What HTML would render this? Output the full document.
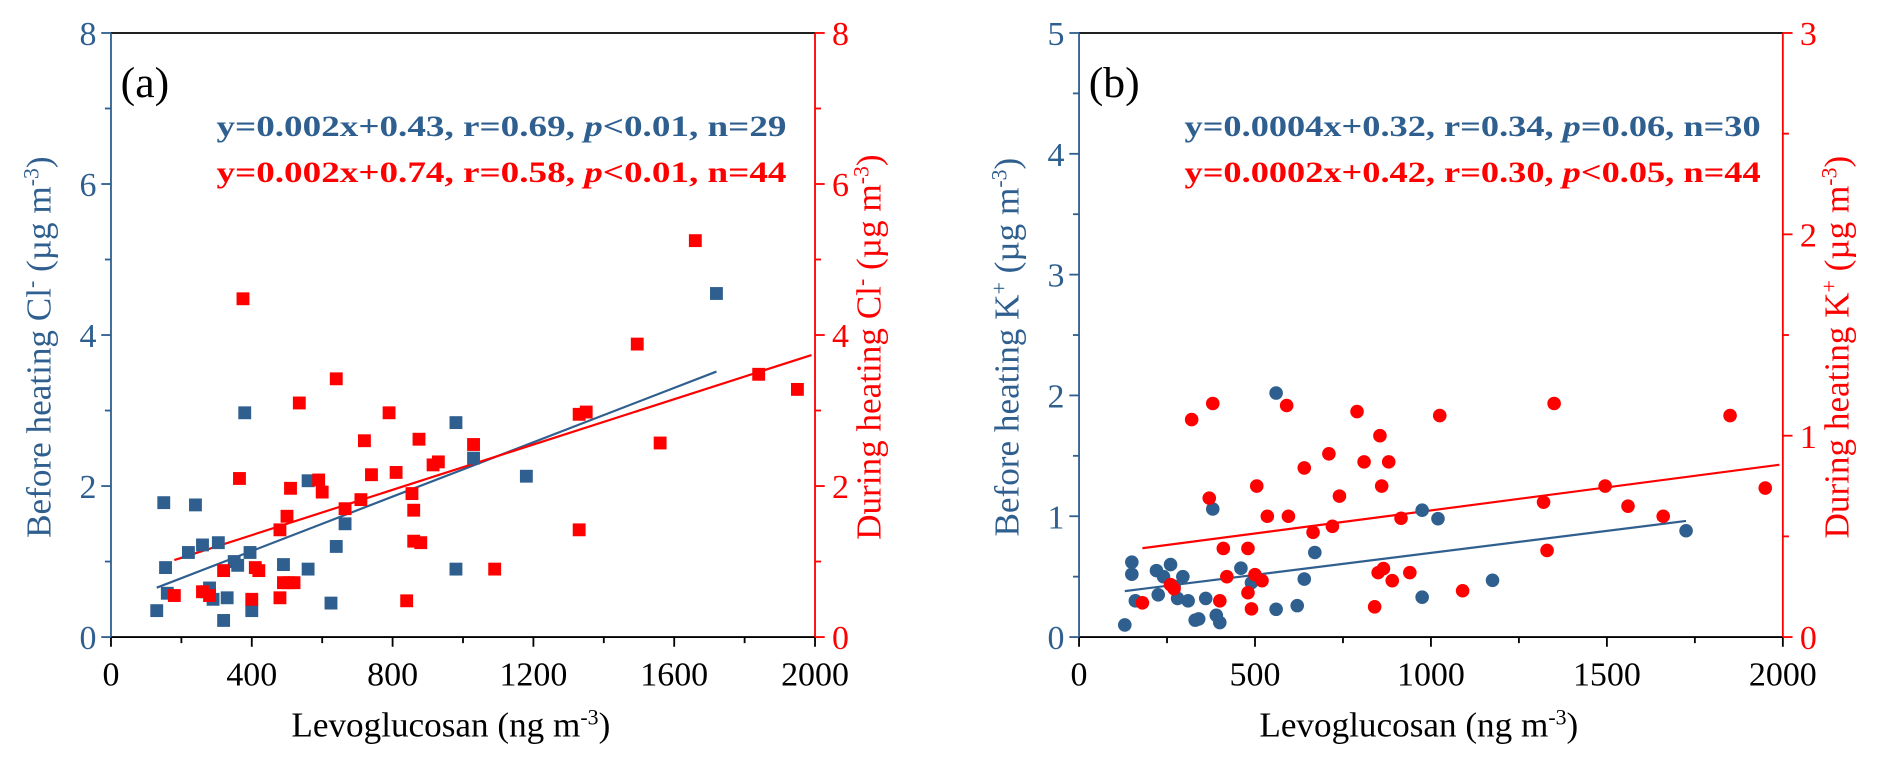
<!DOCTYPE html>
<html><head><meta charset="utf-8"><style>
html,body{margin:0;padding:0;background:#fff;}
svg{display:block;}
svg text{font-family:"Liberation Serif","Times New Roman",serif;}
</style></head><body>
<svg id="chart" width="1892" height="761" viewBox="0 0 1560 627.5" preserveAspectRatio="none" font-family="Liberation Serif, serif" xmlns="http://www.w3.org/2000/svg"></svg>
<script>
// Panel (a) data: Levoglucosan (ng m-3) vs Cl- (ug m-3)
const aBeforeX=[130,150,155,160,220,240,260,270,280,290,305,320,330,350,360,380,395,400,490,560,560,625,640,665,980,980,1030,1180,1720];
const aBeforeY=[0.35,1.78,0.92,0.58,1.12,1.75,1.22,0.6,0.65,0.5,1.25,0.22,0.52,1.0,0.95,2.97,1.12,0.35,0.96,2.07,0.9,0.45,1.2,1.5,2.84,0.9,2.37,2.13,4.55];
const aDuringX=[180,260,280,320,365,375,410,400,420,480,480,490,500,505,510,520,535,590,600,640,665,710,720,740,790,810,840,855,860,860,875,880,915,930,1030,1090,1330,1330,1350,1495,1560,1660,1840,1950];
const aDuringY=[0.55,0.6,0.55,0.88,2.1,4.48,0.92,0.5,0.88,1.42,0.52,0.72,1.6,0.72,1.97,0.72,3.1,2.08,1.92,3.42,1.7,1.82,2.6,2.15,2.97,2.18,0.48,1.9,1.68,1.27,2.62,1.25,2.28,2.32,2.55,0.9,2.95,1.42,2.98,3.88,2.57,5.25,3.48,3.28];
const aFitBefore=[0.0018,0.42,130,1720];
const aFitDuring=[0.0015,0.75,180,1990];
// Panel (b) data: Levoglucosan vs K+
const bBeforeX=[130,150,150,160,220,225,240,260,270,280,295,310,330,340,360,380,390,400,460,490,560,560,620,640,670,975,975,1020,1175,1725];
const bBeforeY=[0.1,0.62,0.52,0.3,0.55,0.35,0.5,0.6,0.42,0.32,0.5,0.3,0.14,0.15,0.32,1.06,0.18,0.12,0.57,0.45,2.02,0.23,0.26,0.48,0.7,1.05,0.33,0.98,0.47,0.88];
const bDuringX=[180,260,270,320,370,380,400,410,420,480,480,490,500,505,520,535,590,595,640,665,710,720,740,790,810,840,850,855,860,865,880,890,915,940,1025,1090,1320,1330,1350,1495,1560,1660,1850,1950];
const bDuringY=[0.17,0.26,0.24,1.08,0.69,1.16,0.18,0.44,0.3,0.44,0.22,0.14,0.31,0.75,0.28,0.6,1.15,0.6,0.84,0.52,0.91,0.55,0.7,1.12,0.87,0.15,0.32,1.0,0.75,0.34,0.87,0.28,0.59,0.32,1.1,0.23,0.67,0.43,1.16,0.75,0.65,0.6,1.1,0.74];
const bFitBefore=[0.000364,0.333,130,1725];
const bFitDuring=[0.000229,0.40,180,1990];
const aXTicks=[0,400,800,1200,1600,2000];
const aYTicks=[0,2,4,6,8];
const bXTicks=[0,500,1000,1500,2000];
const bYTicks=[0,1,2,3,4,5];
const bY2Ticks=[0,1,2,3];

const svg=document.getElementById('chart');
const NS='http://www.w3.org/2000/svg';
const BLUE='#2F5F8F', RED='#FF0000';
const FF='Liberation Serif, serif';
function el(tag,attrs,parent){const e=document.createElementNS(NS,tag);for(const k in attrs)e.setAttribute(k,attrs[k]);(parent||svg).appendChild(e);return e;}
function txt(s,attrs,parent){attrs['font-family']=FF;const e=el('text',attrs,parent);e.textContent=s;return e;}
const Y0=525.3, Y1=27.2;

function panel(cfg){
  const g=el('g',{});
  
  
  const X0=cfg.x0, X1=cfg.x1;
  const sx=v=>X0+(v-0)/2000*(X1-X0);
  const sy=v=>Y0-v/cfg.yMax*(Y0-Y1);
  const sy2=v=>Y0-v/cfg.y2Max*(Y0-Y1);
  const top=el('line',{x1:X0,y1:Y1,x2:X1,y2:Y1,stroke:'#000','stroke-width':1.5},g);
  
  const xa=el('line',{x1:X0,y1:Y0,x2:X1,y2:Y0,stroke:'#000','stroke-width':1.5},g);
  
  const ya=el('line',{x1:X0,y1:Y0,x2:X0,y2:Y1,stroke:BLUE,'stroke-width':1.5},g);
  
  const y2a=el('line',{x1:X1,y1:Y0,x2:X1,y2:Y1,stroke:RED,'stroke-width':1.5},g);
  
  cfg.xTicks.forEach((v,i)=>{
    const x=sx(v);
    const t=el('line',{x1:x,y1:Y0,x2:x,y2:Y0+8,stroke:'#000','stroke-width':1.5},g);
    
    const l=txt(String(v),{x:x,y:Y0+40,'font-size':28,'text-anchor':'middle',fill:'#000'},g);
    
    if(i<cfg.xTicks.length-1){
      const m=sx((v+cfg.xTicks[i+1])/2);
      const mt=el('line',{x1:m,y1:Y0,x2:m,y2:Y0+5,stroke:'#000','stroke-width':1.5},g);
      
    }
  });
  cfg.yTicks.forEach((v,i)=>{
    const y=sy(v);
    const t=el('line',{x1:X0-8,y1:y,x2:X0,y2:y,stroke:BLUE,'stroke-width':1.5},g);
    
    const l=txt(String(v),{x:X0-12,y:y+10,'font-size':28,'text-anchor':'end',fill:BLUE},g);
    
    if(i<cfg.yTicks.length-1){
      const m=sy((v+cfg.yTicks[i+1])/2);
      const mt=el('line',{x1:X0-5,y1:m,x2:X0,y2:m,stroke:BLUE,'stroke-width':1.5},g);
      
    }
  });
  cfg.y2Ticks.forEach((v,i)=>{
    const y=sy2(v);
    const t=el('line',{x1:X1,y1:y,x2:X1+8,y2:y,stroke:RED,'stroke-width':1.5},g);
    
    const l=txt(String(v),{x:X1+14,y:y+10,'font-size':28,'text-anchor':'start',fill:RED},g);
    
    if(i<cfg.y2Ticks.length-1){
      const m=sy2((v+cfg.y2Ticks[i+1])/2);
      const mt=el('line',{x1:X1,y1:m,x2:X1+5,y2:m,stroke:RED,'stroke-width':1.5},g);
      
    }
  });
  const xt=txt('Levoglucosan (ng m',{x:(X0+X1)/2-10,y:Y0+82,'font-size':29,'text-anchor':'middle',fill:'#000'},g);
  const xs=el('tspan',{'baseline-shift':'super','font-size':18},xt);xs.textContent='-3';
  const xe=el('tspan',{},xt);xe.textContent=')';
  
  const lt=txt('',{transform:`translate(${X0-50},${(Y0+Y1)/2+10}) rotate(-90)`,'font-size':29,'text-anchor':'middle',fill:BLUE},g);
  lt.innerHTML=cfg.leftTitle;
  
  const rt=txt('',{transform:`translate(${X1+54},${(Y0+Y1)/2+10}) rotate(-90)`,'font-size':29,'text-anchor':'middle',fill:RED},g);
  rt.innerHTML=cfg.rightTitle;
  
  const pl=txt(cfg.label,{x:X0+8,y:80,'font-size':36,fill:'#000'},g);
  
  const e1=txt('',{x:X0+87,y:112,'font-size':24,'font-weight':'bold',fill:BLUE,textLength:cfg.eqLen,lengthAdjust:'spacingAndGlyphs'},g);
  e1.innerHTML=cfg.eq1;
  
  const e2=txt('',{x:X0+87,y:150,'font-size':24,'font-weight':'bold',fill:RED,textLength:cfg.eqLen,lengthAdjust:'spacingAndGlyphs'},g);
  e2.innerHTML=cfg.eq2;
  
  const fb=cfg.fitB, fd=cfg.fitD;
  const l1=el('line',{x1:sx(fb[2]),y1:sy(fb[0]*fb[2]+fb[1]),x2:sx(fb[3]),y2:sy(fb[0]*fb[3]+fb[1]),stroke:BLUE,'stroke-width':1.8},g);
  
  const ysD=cfg.redRight?sy2:sy;
  const l2=el('line',{x1:sx(fd[2]),y1:ysD(fd[0]*fd[2]+fd[1]),x2:sx(fd[3]),y2:ysD(fd[0]*fd[3]+fd[1]),stroke:RED,'stroke-width':1.8},g);
  
  cfg.bx.forEach((v,i)=>{
    let m;
    if(cfg.square) m=el('rect',{x:sx(v)-5.3,y:sy(cfg.by[i])-5.3,width:10.6,height:10.6,fill:BLUE},g);
    else m=el('circle',{cx:sx(v),cy:sy(cfg.by[i]),r:5.6,fill:BLUE},g);
    
    
  });
  cfg.dx.forEach((v,i)=>{
    let m;
    if(cfg.square) m=el('rect',{x:sx(v)-5.3,y:ysD(cfg.dy[i])-5.3,width:10.6,height:10.6,fill:RED},g);
    else m=el('circle',{cx:sx(v),cy:ysD(cfg.dy[i]),r:5.6,fill:RED},g);
    
    
  });
}
panel({name:'panel-a',x0:91.5,x1:672,yMax:8,y2Max:8,xTicks:aXTicks,yTicks:aYTicks,y2Ticks:aYTicks,square:true,redRight:false,
  bx:aBeforeX,by:aBeforeY,dx:aDuringX,dy:aDuringY,fitB:aFitBefore,fitD:aFitDuring,label:'(a)',eqLen:470,
  leftTitle:'Before heating Cl<tspan baseline-shift="super" font-size="18">-</tspan> (µg m<tspan baseline-shift="super" font-size="18">-3</tspan>)',
  rightTitle:'During heating Cl<tspan baseline-shift="super" font-size="18">-</tspan> (µg m<tspan baseline-shift="super" font-size="18">-3</tspan>)',
  eq1:'y=0.002x+0.43, r=0.69, <tspan font-style="italic">p</tspan>&lt;0.01, n=29',
  eq2:'y=0.002x+0.74, r=0.58, <tspan font-style="italic">p</tspan>&lt;0.01, n=44'});
panel({name:'panel-b',x0:889.7,x1:1470,yMax:5,y2Max:3,xTicks:bXTicks,yTicks:bYTicks,y2Ticks:bY2Ticks,square:false,redRight:true,
  bx:bBeforeX,by:bBeforeY,dx:bDuringX,dy:bDuringY,fitB:bFitBefore,fitD:bFitDuring,label:'(b)',eqLen:475,
  leftTitle:'Before heating K<tspan baseline-shift="super" font-size="18">+</tspan> (µg m<tspan baseline-shift="super" font-size="18">-3</tspan>)',
  rightTitle:'During heating K<tspan baseline-shift="super" font-size="18">+</tspan> (µg m<tspan baseline-shift="super" font-size="18">-3</tspan>)',
  eq1:'y=0.0004x+0.32, r=0.34, <tspan font-style="italic">p</tspan>=0.06, n=30',
  eq2:'y=0.0002x+0.42, r=0.30, <tspan font-style="italic">p</tspan>&lt;0.05, n=44'});
</script>
</body></html>
